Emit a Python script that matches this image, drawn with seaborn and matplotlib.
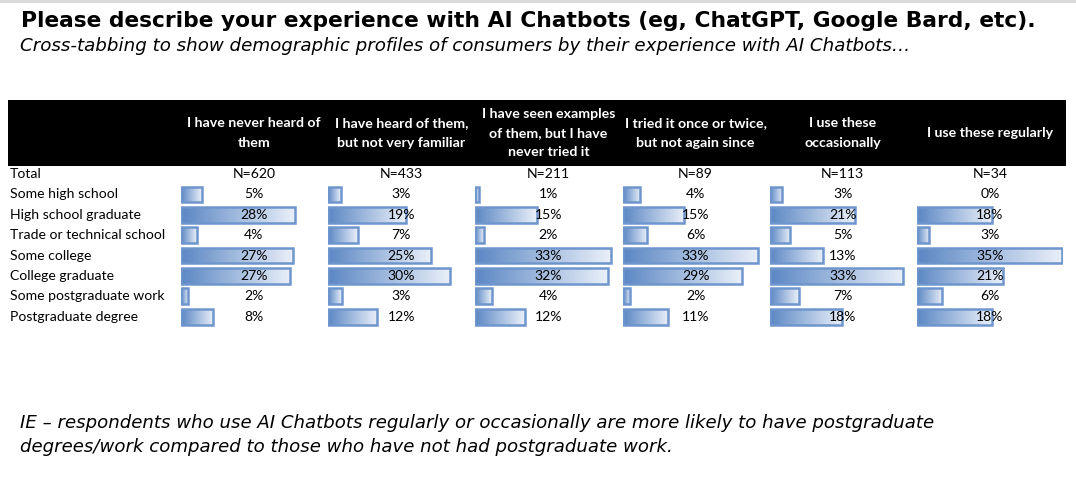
import numpy as np
import seaborn as sns
import pandas as pd
from matplotlib import pyplot as plt
from matplotlib import transforms
from matplotlib.patches import Rectangle
from matplotlib.colors import LinearSegmentedColormap

TITLE = 'Please describe your experience with AI Chatbots (eg, ChatGPT, Google Bard, etc).'
SUBTITLE = 'Cross-tabbing to show demographic profiles of consumers by their experience with AI Chatbots…'
NOTE = ['IE – respondents who use AI Chatbots regularly or occasionally are more likely to have postgraduate',
        'degrees/work compared to those who have not had postgraduate work.']

columns = ['I have never heard of\nthem',
           'I have heard of them,\nbut not very familiar',
           'I have seen examples\nof them, but I have\nnever tried it',
           'I tried it once or twice,\nbut not again since',
           'I use these\noccasionally',
           'I use these regularly']
totals = ['N=620', 'N=433', 'N=211', 'N=89', 'N=113', 'N=34']
rows = ['Some high school', 'High school graduate', 'Trade or technical school', 'Some college',
        'College graduate', 'Some postgraduate work', 'Postgraduate degree']

# % of each column (bar lengths, labels are the rounded values)
never_heard = [5, 27.8, 3.9, 27.3, 26.6, 1.8, 7.9]
heard_not_familiar = [3, 19, 7.2, 25, 29.8, 3.4, 12]
seen_not_tried = [0.8, 15, 2, 33, 32.3, 4, 12]
tried_once = [4.2, 15, 6, 33, 29, 1.8, 11]
occasionally = [3, 20.8, 5, 13, 32.6, 7, 17.6]
regularly = [0, 18.2, 3, 35.4, 21, 6.2, 18.2]

series = [never_heard, heard_not_familiar, seen_not_tried, tried_once, occasionally, regularly]

W, H = 1076, 480
BAR_DARK = '#5B87C4'
BAR_LIGHT = '#EAF0F9'
BAR_EDGE = '#6E96CD'
grad_cmap = LinearSegmentedColormap.from_list('databar', [BAR_DARK, BAR_LIGHT])

sns.set_style('white')
plt.rcParams['font.family'] = ['Lato', 'DejaVu Sans']
plt.rcParams['text.color'] = 'black'


def fx(px):
    return px / W


def fy(py):
    return 1 - py / H


fig = plt.figure(figsize=(W / 100, H / 100), dpi=100)
fig.patch.set_facecolor('white')

# faint rule at the very top
fig.add_artist(plt.Line2D([0, 1], [fy(1), fy(1)], color='#D9D9D9', lw=2, transform=fig.transFigure))

fig.text(fx(21), fy(21), TITLE, fontsize=15.65, fontweight='bold', family='DejaVu Sans',
         ha='left', va='center')
fig.text(fx(20), fy(46), SUBTITLE, fontsize=13.15, style='italic', family='DejaVu Sans',
         ha='left', va='center')
for i, line in enumerate(NOTE):
    fig.text(fx(20), fy(423 + 24 * i), line, fontsize=13.1, style='italic', family='DejaVu Sans',
             ha='left', va='center')

# black header band
fig.add_artist(Rectangle((fx(8), fy(166)), fx(1066) - fx(8), fy(100) - fy(166),
                         facecolor='black', edgecolor='none', transform=fig.transFigure))

row_top, row_step = 184.3, 20.37
col_start, col_step, col_w = 181, 147.2, 146
XMAX = 35.6

axes = []
for c, (col, vals) in enumerate(zip(columns, series)):
    left = col_start + col_step * c
    ax = fig.add_axes([fx(left), fy(row_top + 7 * row_step), col_w / W, 7 * row_step / H])
    df = pd.DataFrame({'group': rows, 'pct': vals})
    sns.barplot(data=df, x='pct', y='group', orient='h', width=0.77, ax=ax,
                color=BAR_DARK, saturation=1)
    # gradient fill clipped to each bar
    gradient = np.linspace(0, 1, 256).reshape(1, -1)
    for patch in ax.patches:
        x0, y0 = patch.get_x(), patch.get_y()
        w, h = patch.get_width(), patch.get_height()
        if w <= 0:
            patch.set_visible(False)
            continue
        patch.set_facecolor('none')
        patch.set_edgecolor(BAR_EDGE)
        patch.set_linewidth(1.8)
        patch.set_zorder(3)
        im = ax.imshow(gradient, extent=[x0, x0 + w, y0 + h, y0], cmap=grad_cmap,
                       aspect='auto', zorder=2, interpolation='bilinear')
        im.set_clip_path(patch)
    ax.set_xlim(0, XMAX)
    ax.set_ylim(6.5, -0.5)
    ax.set_axis_off()

    yt = ax.get_yaxis_transform()
    for i, v in enumerate(vals):
        ax.text(0.5, i, f'{round(v):.0f}%', transform=yt, ha='center', va='center',
                fontsize=10.1, color='black', zorder=5, clip_on=False)
    ax.text(0.5, -1, totals[c], transform=yt, ha='center', va='center',
            fontsize=10.1, color='black', clip_on=False)

    # column header in the black band
    fig.text(fx(left + col_w / 2), fy(133), col, ha='center', va='center', color='white',
             fontsize=10.2, fontweight='bold', linespacing=1.75)
    axes.append(ax)

label_tr = transforms.blended_transform_factory(fig.transFigure, axes[0].transData)
fig.text(fx(10), -1, 'Total', transform=label_tr, ha='left', va='center', fontsize=10.1, color='black')
for i, r in enumerate(rows):
    fig.text(fx(10), i, r, transform=label_tr, ha='left', va='center', fontsize=10.1, color='black')

fig.savefig('out.png', dpi=100)
